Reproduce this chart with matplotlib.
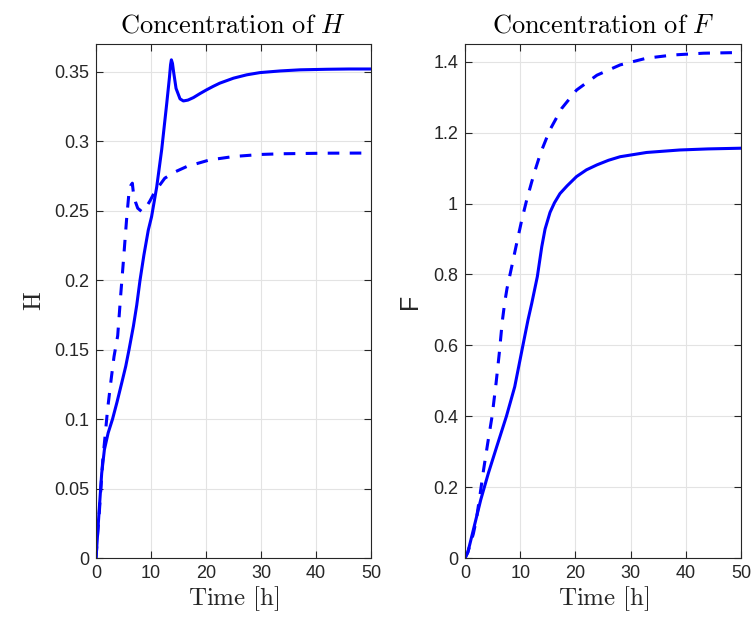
import numpy as np
import matplotlib.pyplot as plt

plt.rcParams['mathtext.fontset'] = 'cm'
plt.rcParams['font.family'] = ['Liberation Sans', 'DejaVu Sans']

# H, solid run
t_h1 = [0, 0.2, 0.4, 0.6, 1.03, 1.52, 2.2, 3.0, 3.8, 4.67, 5.4, 6.0, 6.8, 7.4,
        8.0, 8.7, 9.5, 10.1, 11.03, 11.94, 12.85, 13.35, 13.55, 13.7, 13.9, 14.1,
        14.55, 15.27, 15.88, 16.7, 17.7, 18.9, 20.1, 21.3, 22.5, 25, 27.4, 29.8,
        33.5, 37.1, 42, 46, 50]
h1 = [0, 0.012, 0.024, 0.036, 0.061, 0.078, 0.09, 0.1, 0.112, 0.126, 0.138, 0.15,
      0.167, 0.182, 0.2, 0.218, 0.236, 0.2457, 0.267, 0.294, 0.327, 0.346, 0.355,
      0.3586, 0.356, 0.35, 0.338, 0.3305, 0.329, 0.3296, 0.3314, 0.3343, 0.337,
      0.3395, 0.3418, 0.3454, 0.3478, 0.3494, 0.3506, 0.3514, 0.3518, 0.352, 0.352]

# H, dashed run
t_h2 = [0, 0.3, 0.6, 1.21, 1.7, 2.1, 2.73, 3.27, 3.94, 4.5, 5.0, 5.58, 6.0, 6.3,
        6.6, 6.8, 7.2, 7.58, 8.3, 9.0, 9.8, 10.7, 11.5, 12.5, 14.4, 16.5, 18.6,
        20.7, 22.9, 25, 30, 34, 42, 50]
h2 = [0, 0.018, 0.033, 0.07, 0.09, 0.107, 0.128, 0.145, 0.16, 0.19, 0.215, 0.245,
      0.2635, 0.268, 0.2698, 0.2626, 0.256, 0.2518, 0.2494, 0.2518, 0.257,
      0.2637, 0.268, 0.2734, 0.278, 0.2818, 0.2842, 0.2866, 0.2878, 0.289,
      0.2905, 0.291, 0.2914, 0.2915]

# F, solid run
t_f1 = [0, 0.5, 0.9, 1.8, 2.84, 4.22, 5.74, 7.5, 9.0, 10.5, 11.4, 12.08, 13.1,
        13.9, 14.5, 15.4, 16.2, 17.2, 18.5, 20.2, 22, 23.9, 26, 28.1, 32.9, 38.9,
        44, 50]
f1 = [0, 0.016, 0.041, 0.098, 0.164, 0.239, 0.314, 0.4, 0.483, 0.601, 0.671,
      0.718, 0.794, 0.878, 0.928, 0.975, 1.002, 1.028, 1.05, 1.076, 1.095, 1.109,
      1.122, 1.132, 1.144, 1.151, 1.154, 1.156]

# F, dashed run
t_f2 = [0, 0.5, 1.0, 1.5, 2.03, 2.75, 3.35, 4.1, 4.9, 5.62, 6.2, 6.75, 7.2, 7.6,
        8.46, 9.36, 10.27, 11.17, 12.08, 12.9, 13.7, 15.35, 17.5, 20.2, 23.9, 28.1,
        32.9, 37.7, 43.2, 50]
f2 = [0, 0.016, 0.042, 0.068, 0.107, 0.182, 0.248, 0.323, 0.4, 0.493, 0.577,
      0.668, 0.722, 0.76, 0.822, 0.888, 0.953, 1.01, 1.061, 1.104, 1.143, 1.207,
      1.268, 1.32, 1.362, 1.391, 1.41, 1.419, 1.424, 1.426]

x_ticks = [0, 10, 20, 30, 40, 50]
h_ticks = [0, 0.05, 0.1, 0.15, 0.2, 0.25, 0.3, 0.35]
f_ticks = [0, 0.2, 0.4, 0.6, 0.8, 1, 1.2, 1.4]

fig = plt.figure(figsize=(7.52, 6.23), dpi=100)
ax1 = fig.add_axes([0.1277, 0.1043, 0.3657, 0.8251])
ax2 = fig.add_axes([0.6184, 0.1043, 0.3670, 0.8251])

dash = (3.8, 3.4)
ax1.plot(t_h1, h1, color='#0000ff', lw=2.2)
ax1.plot(t_h2, h2, color='#0000ff', lw=2.2, dashes=dash)
ax2.plot(t_f1, f1, color='#0000ff', lw=2.2)
ax2.plot(t_f2, f2, color='#0000ff', lw=2.2, dashes=dash)

for ax, yt, ylim in [(ax1, h_ticks, 0.37), (ax2, f_ticks, 1.45)]:
    ax.set_xlim(0, 50)
    ax.set_ylim(0, ylim)
    ax.set_xticks(x_ticks)
    ax.set_yticks(yt)
    ax.set_yticklabels([('%g' % v) for v in yt])
    ax.grid(True, color='#e3e3e3', lw=0.8)
    ax.set_axisbelow(True)
    ax.tick_params(direction='in', length=5, width=0.8, top=True, right=True,
                   labelsize=13, colors='#262626', pad=5)
    for s in ax.spines.values():
        s.set_color('#262626')
        s.set_linewidth(0.8)
    ax.set_xlabel(r'$\mathrm{Time\ [h]}$', fontsize=18, color='#262626', labelpad=2)

ax1.set_title(r'$\mathrm{Concentration\ of}\ H$', fontsize=19, pad=8)
ax2.set_title(r'$\mathrm{Concentration\ of}\ F$', fontsize=19, pad=8)
ax1.set_ylabel(r'$\mathrm{H}$', fontsize=18, color='#262626', labelpad=6)
ax2.set_ylabel('F', fontsize=18, color='#262626', labelpad=8)

plt.savefig('out.png', dpi=100)
